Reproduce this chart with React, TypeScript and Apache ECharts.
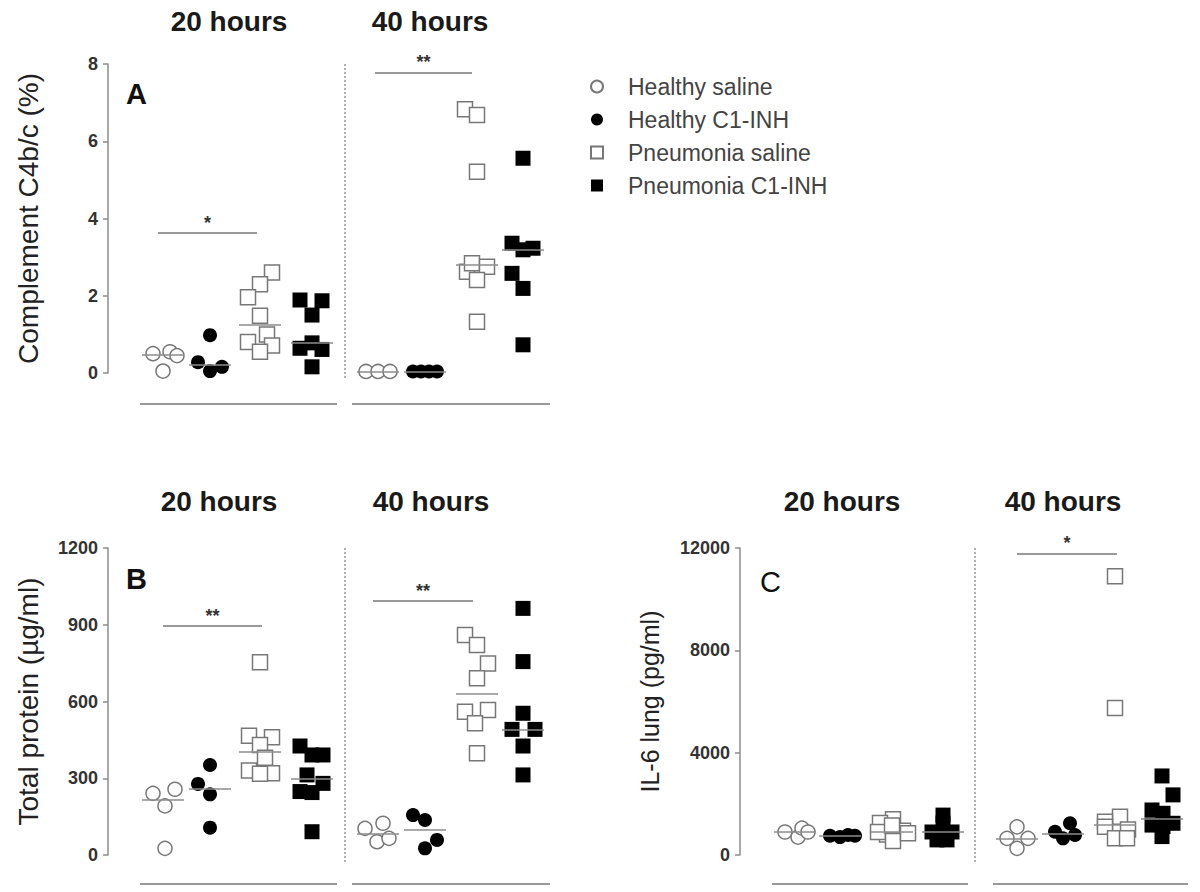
import React, { useEffect, useRef } from "react";
import * as echarts from "echarts";

const groupNames = ["Healthy saline", "Healthy C1-INH", "Pneumonia saline", "Pneumonia C1-INH"];
const timeLabels = ["20 hours", "40 hours"];
const panelLetters = ["A", "B", "C"];
const yAxisNames = ["Complement C4b/c (%)", "Total protein (\u00b5g/ml)", "IL-6 lung (pg/ml)"];
const yMax = [8, 1200, 12000];
const yInterval = [2, 300, 4000];

// group centre positions on the hidden x scale (0..9): 20 h x4 then 40 h x4
const groupCentersAB = [1.1, 2.04, 3.04, 4.08, 5.4, 6.34, 7.38, 8.3];
const groupCentersC = [1.1, 2.0, 3.04, 4.06, 5.54, 6.46, 7.5, 8.44];
const dividerX = [4.74, 4.74, 4.7];

// ---------- Panel A : Complement C4b/c (%) ----------
const a20HealthySaline = [0.5, 0.55, 0.45, 0.05];
const a20HealthySalineDx = [-0.2, 0.14, 0.28, 0];
const a20HealthyC1 = [0.98, 0.28, 0.05, 0.16];
const a20HealthyC1Dx = [0, -0.24, 0, 0.24];
const a20PneuSaline = [2.6, 2.3, 1.96, 1.48, 0.8, 1.0, 0.71, 0.55];
const a20PneuSalineDx = [0.24, 0, -0.24, 0, -0.24, 0.14, 0.24, 0];
const a20PneuC1 = [1.89, 1.87, 1.5, 0.64, 0.78, 0.61, 0.16];
const a20PneuC1Dx = [-0.24, 0.2, 0, -0.24, 0, 0.2, 0];
const a40HealthySaline = [0.04, 0.04, 0.04];
const a40HealthySalineDx = [-0.24, 0, 0.24];
const a40HealthyC1 = [0.04, 0.04, 0.04, 0.04];
const a40HealthyC1Dx = [-0.24, -0.08, 0.08, 0.24];
const a40PneuSaline = [6.83, 6.68, 5.21, 2.62, 2.84, 2.75, 2.41, 1.33];
const a40PneuSalineDx = [-0.24, 0, 0, -0.2, -0.1, 0.2, 0, 0];
const a40PneuC1 = [5.56, 3.36, 3.19, 3.23, 2.58, 2.19, 0.73];
const a40PneuC1Dx = [0, -0.22, 0, 0.2, -0.22, 0, 0];

// ---------- Panel B : Total protein (ug/ml) ----------
const b20HealthySaline = [241, 257, 192, 26];
const b20HealthySalineDx = [-0.2, 0.24, 0.04, 0.04];
const b20HealthyC1 = [352, 278, 237, 107];
const b20HealthyC1Dx = [0, -0.24, 0, 0];
const b20PneuSaline = [753, 466, 460, 430, 380, 330, 320, 318];
const b20PneuSalineDx = [0, -0.22, 0.24, 0, 0.1, -0.22, 0.24, 0];
const b20PneuC1 = [426, 391, 391, 313, 280, 248, 244, 91];
const b20PneuC1Dx = [-0.24, 0, 0.22, -0.1, 0.22, -0.24, 0, 0];
const b40HealthySaline = [104, 124, 52, 65];
const b40HealthySalineDx = [-0.26, 0.1, -0.02, 0.22];
const b40HealthyC1 = [156, 137, 26, 59];
const b40HealthyC1Dx = [-0.24, 0, 0, 0.24];
const b40PneuSaline = [860, 821, 749, 691, 560, 567, 515, 398];
const b40PneuSalineDx = [-0.24, 0, 0.22, 0, -0.24, 0.22, -0.04, 0];
const b40PneuC1 = [964, 756, 554, 491, 491, 426, 313];
const b40PneuC1Dx = [0, 0, 0, -0.22, 0.24, 0, 0];

// ---------- Panel C : IL-6 lung (pg/ml) ----------
const c20HealthySaline = [900, 700, 1050, 900];
const c20HealthySalineDx = [-0.2, 0.06, 0.14, 0.26];
const c20HealthyC1 = [750, 700, 780, 750];
const c20HealthyC1Dx = [-0.2, 0, 0.16, 0.3];
const c20PneuSaline = [1400, 1250, 950, 800, 900, 550, 850, 1150];
const c20PneuSalineDx = [0.02, -0.24, 0.22, -0.1, -0.28, 0.02, 0.32, 0];
const c20PneuC1 = [1560, 1250, 900, 900, 780, 590, 590];
const c20PneuC1Dx = [0, 0, -0.22, 0.18, 0, -0.12, 0.08];
const c40HealthySaline = [1100, 650, 650, 260];
const c40HealthySalineDx = [0, -0.2, 0.22, 0];
const c40HealthyC1 = [910, 1240, 650, 780];
const c40HealthyC1Dx = [-0.16, 0.14, 0, 0.24];
const c40PneuSaline = [10900, 5750, 1500, 1300, 1100, 1000, 650, 650];
const c40PneuSalineDx = [0, 0, 0.1, -0.2, -0.2, 0.26, 0, 0.24];
const c40PneuC1 = [3090, 2350, 1760, 1630, 1240, 1170, 1110, 720];
const c40PneuC1Dx = [0, 0.22, -0.2, 0.02, 0.22, -0.2, 0.02, 0];

// significance bars: [xStart, xEnd, y, label]
const sigA: [number, number, number, string][] = [
  [1.0, 2.98, 3.63, "*"],
  [5.34, 7.28, 7.78, "**"],
];
const sigB: [number, number, number, string][] = [
  [1.1, 3.08, 895, "**"],
  [5.3, 7.3, 994, "**"],
];
const sigC: [number, number, number, string][] = [[5.54, 7.54, 11790, "*"]];

// baseline segments under each time block (x ranges) and their y value
const baseSegAB = [[0.64, 4.58], [4.88, 8.84]];
const baseSegC = [[0.64, 4.56], [5.06, 8.96]];
const baseY = [-0.8, -113, -1134];
const dividerBottom = [-0.18, -27, -270];

const panelValues = [
  [a20HealthySaline, a20HealthyC1, a20PneuSaline, a20PneuC1, a40HealthySaline, a40HealthyC1, a40PneuSaline, a40PneuC1],
  [b20HealthySaline, b20HealthyC1, b20PneuSaline, b20PneuC1, b40HealthySaline, b40HealthyC1, b40PneuSaline, b40PneuC1],
  [c20HealthySaline, c20HealthyC1, c20PneuSaline, c20PneuC1, c40HealthySaline, c40HealthyC1, c40PneuSaline, c40PneuC1],
];
const panelDx = [
  [a20HealthySalineDx, a20HealthyC1Dx, a20PneuSalineDx, a20PneuC1Dx, a40HealthySalineDx, a40HealthyC1Dx, a40PneuSalineDx, a40PneuC1Dx],
  [b20HealthySalineDx, b20HealthyC1Dx, b20PneuSalineDx, b20PneuC1Dx, b40HealthySalineDx, b40HealthyC1Dx, b40PneuSalineDx, b40PneuC1Dx],
  [c20HealthySalineDx, c20HealthyC1Dx, c20PneuSalineDx, c20PneuC1Dx, c40HealthySalineDx, c40HealthyC1Dx, c40PneuSalineDx, c40PneuC1Dx],
];
const panelCenters = [groupCentersAB, groupCentersAB, groupCentersC];
const panelSig = [sigA, sigB, sigC];
const panelBase = [baseSegAB, baseSegAB, baseSegC];

const FONT = "'Liberation Sans', Arial, Helvetica, sans-serif";
const GRAY = "#8c8c8c";

function median(arr: number[]) {
  const s = [...arr].sort((a, b) => a - b);
  const n = s.length;
  return n % 2 ? s[(n - 1) / 2] : (s[n / 2 - 1] + s[n / 2]) / 2;
}

const groupStyles = [
  { symbol: "circle", symbolSize: 14, itemStyle: { color: "#ffffff", borderColor: "#777777", borderWidth: 1.5, opacity: 1 } },
  { symbol: "circle", symbolSize: 14, itemStyle: { color: "#000000", opacity: 1 } },
  { symbol: "rect", symbolSize: 15, itemStyle: { color: "#ffffff", borderColor: "#777777", borderWidth: 1.5, opacity: 1 } },
  { symbol: "rect", symbolSize: 15, itemStyle: { color: "#000000", opacity: 1 } },
];

const grids = [
  { left: 108, top: 64, width: 450, height: 309 },
  { left: 108, top: 548, width: 450, height: 307 },
  { left: 740, top: 548, width: 450, height: 307 },
];
const nameGaps = [66, 66, 78];
const nameSizes = [28, 28, 25];

const titlePos = [
  [[229, 21], [430, 21]],
  [[219, 501], [431, 501]],
  [[842, 501], [1063, 501]],
];
const letterPos = [[126, 79, "bold"], [126, 564, "bold"], [760, 567, "normal"]];

function buildOption() {
  const series: any[] = [];
  for (let p = 0; p < 3; p++) {
    // structural lines (time-block divider + baselines), drawn through the axes' scales
    const segs: number[][] = [];
    segs.push([dividerX[p], yMax[p], dividerX[p], dividerBottom[p], 1]);
    for (const seg of panelBase[p]) segs.push([seg[0], baseY[p], seg[1], baseY[p], 0]);
    series.push({
      type: "custom",
      name: "frame" + p,
      xAxisIndex: p,
      yAxisIndex: p,
      clip: false,
      silent: true,
      z: 1,
      data: segs,
      encode: { x: [0, 2], y: [1, 3] },
      renderItem: (_params: any, api: any) => {
        const a = api.coord([api.value(0), api.value(1)]);
        const b = api.coord([api.value(2), api.value(3)]);
        const dotted = api.value(4) === 1;
        return {
          type: "line",
          shape: { x1: a[0], y1: a[1], x2: b[0], y2: b[1] },
          style: {
            stroke: "#999999",
            lineWidth: dotted ? 1.5 : 2,
            lineDash: dotted ? [2, 2] : null,
          },
        };
      },
    });

    const centers = panelCenters[p];
    for (let k = 0; k < 8; k++) {
      const g = k % 4;
      const vals = panelValues[p][k];
      const dx = panelDx[p][k];
      const c = centers[k];
      const m = median(vals);
      series.push({
        type: "scatter",
        name: groupNames[g],
        xAxisIndex: p,
        yAxisIndex: p,
        clip: false,
        ...groupStyles[g],
        data: vals.map((v, i) => [c + dx[i], v]),
        z: 3,
        emphasis: { disabled: true },
        markLine: {
          silent: true,
          symbol: ["none", "none"],
          label: { show: false },
          lineStyle: { color: GRAY, width: 1.5, type: "solid" },
          data: [[{ coord: [c - 0.42, m] }, { coord: [c + 0.42, m] }]],
        },
      });
    }
    const ml: any[] = [];
    for (const s of panelSig[p]) {
      ml.push([
        {
          coord: [s[0], s[2]],
          lineStyle: { color: "#999999", width: 2, type: "solid" },
          label: {
            show: true,
            position: "middle",
            formatter: s[3],
            color: "#333",
            fontSize: 18,
            fontWeight: "bold",
            fontFamily: FONT,
            distance: 1,
          },
        },
        { coord: [s[1], s[2]] },
      ]);
    }
    series.push({
      type: "scatter",
      name: "helper" + p,
      xAxisIndex: p,
      yAxisIndex: p,
      clip: false,
      data: [[0, 0]],
      symbolSize: 0,
      itemStyle: { opacity: 0 },
      silent: true,
      z: 1,
      markLine: {
        silent: true,
        symbol: ["none", "none"],
        label: { show: false },
        data: ml,
      },
    });
  }

  const graphic: any[] = [];
  for (let p = 0; p < 3; p++) {
    for (let t = 0; t < 2; t++) {
      graphic.push({
        type: "text",
        x: titlePos[p][t][0],
        y: titlePos[p][t][1],
        style: {
          text: timeLabels[t],
          align: "center",
          verticalAlign: "middle",
          fontSize: 28,
          fontWeight: "bold",
          fontFamily: FONT,
          fill: "#1a1a1a",
        },
      });
    }
    graphic.push({
      type: "text",
      x: letterPos[p][0],
      y: letterPos[p][1],
      style: {
        text: panelLetters[p],
        align: "left",
        verticalAlign: "top",
        fontSize: 29,
        fontWeight: letterPos[p][2],
        fontFamily: FONT,
        fill: "#111",
      },
    });
  }

  const squareIcon = "path://M0,0L10,0L10,10L0,10Z";

  return {
    animation: false,
    backgroundColor: "#ffffff",
    textStyle: { fontFamily: FONT },
    grid: grids,
    xAxis: grids.map((_, i) => ({
      type: "value",
      gridIndex: i,
      min: 0,
      max: 9,
      show: false,
    })),
    yAxis: grids.map((_, i) => ({
      type: "value",
      gridIndex: i,
      min: 0,
      max: yMax[i],
      interval: yInterval[i],
      name: yAxisNames[i],
      nameLocation: "middle",
      nameGap: nameGaps[i],
      nameTextStyle: { fontSize: nameSizes[i], color: "#222", fontFamily: FONT },
      axisLine: { show: true, lineStyle: { color: GRAY, width: 1.5 } },
      axisTick: { show: true, length: 5, lineStyle: { color: GRAY, width: 1.5 } },
      axisLabel: {
        fontSize: 18,
        color: "#333",
        fontWeight: "bold",
        margin: 10,
        fontFamily: FONT,
        formatter: (v: number) => String(v),
      },
      splitLine: { show: false },
    })),
    legend: {
      orient: "vertical",
      left: 585,
      top: 70,
      itemWidth: 52,
      itemHeight: 12,
      itemGap: 10,
      selectedMode: false,
      textStyle: { fontSize: 23, color: "#444", fontFamily: FONT },
      data: [
        { name: groupNames[0], icon: "circle" },
        { name: groupNames[1], icon: "circle" },
        { name: groupNames[2], icon: squareIcon },
        { name: groupNames[3], icon: squareIcon },
      ],
    },
    graphic,
    series,
  };
}

export default function App() {
  const ref = useRef<HTMLDivElement>(null);
  useEffect(() => {
    if (!ref.current) return;
    const chart = echarts.init(ref.current, undefined, { renderer: "svg" });
    chart.setOption(buildOption() as any);
    return () => chart.dispose();
  }, []);
  return (
    <div
      ref={ref}
      style={{ position: "fixed", left: 0, top: 0, width: 1200, height: 892, background: "#fff" }}
    />
  );
}
